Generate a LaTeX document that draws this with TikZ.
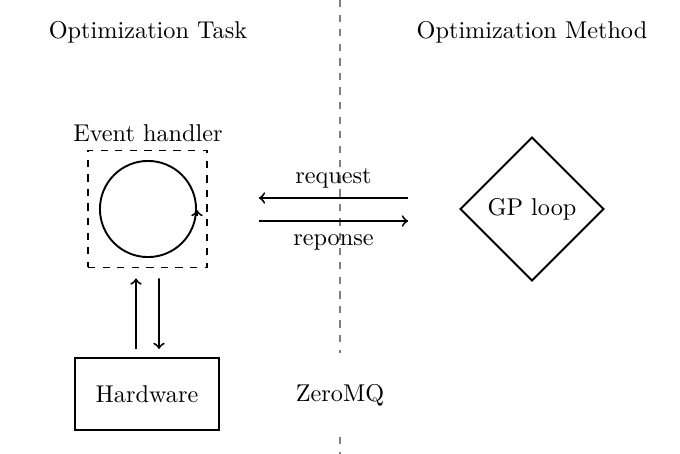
\documentclass[tikz,border=0pt]{standalone}
\usetikzlibrary{shapes.geometric,calc}
\begin{document}
\begin{tikzpicture}[x=0.412pt,y=-0.412pt,line width=0.78pt,
  lbl/.style={inner sep=0pt},
  arr/.style={->},
  sep/.style={draw=gray,dashed}]
\useasboundingbox (0,0) rectangle (680,454);
% titles
\node[lbl] (task) at (148,32) {Optimization Task};
\node[lbl] (method) at (532,32) {Optimization Method};
% separator
\coordinate (septop) at (340,0);
\coordinate (sepbot) at (340,454);
\node[inner sep=0pt,minimum height=33.9pt] (zmq) at (340,395) {ZeroMQ};
\draw[sep] (septop) -- (zmq.north);
\draw[sep] (zmq.south) -- (sepbot);
% event handler
\node[draw,dashed,minimum width=49pt,minimum height=48.2pt,inner sep=0pt] (eh) at (147.5,209) {};
\node[lbl] (ehlabel) at (148,133) {Event handler};
\node[draw,circle,minimum size=39.6pt,inner sep=0pt] (loop) at (148,209) {};
\draw[arr] ($(loop.east)+(0,7)$) -- ($(loop.east)+(0,1)$);
% GP loop
\node[draw,diamond,minimum width=59.3pt,minimum height=59.3pt,inner sep=0pt] (gp) at (532,209) {GP loop};
% hardware
\node[draw,minimum width=59.3pt,minimum height=29.7pt,inner sep=0pt] (hw) at (147,394) {Hardware};
% request / response
\draw[arr] ($(gp.west)+(-51,-11)$) -- node[midway,above=0.3pt] (req) {request} ($(eh.east)+(51,-11)$);
\draw[arr] ($(eh.east)+(51,12)$) -- node[midway,below=2pt] (resp) {reponse} ($(gp.west)+(-51,12)$);
% vertical arrows
\draw[arr] ($(hw.north)+(-11,-8)$) -- ($(eh.south)+(-11.5,10)$);
\draw[arr] ($(eh.south)+(11.5,10)$) -- ($(hw.north)+(12,-8)$);
\end{tikzpicture}
\end{document}
